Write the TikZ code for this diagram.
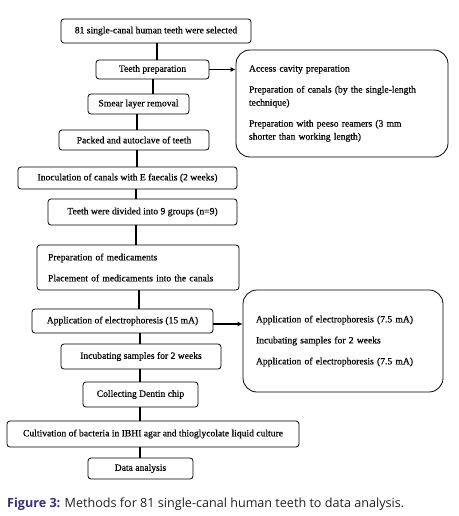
\documentclass[tikz,border=0pt]{standalone}
\usepackage{fontspec}
\setmainfont{Liberation Serif}
\newfontfamily\boxfont{Liberation Serif}[FakeBold=0.4]
\newfontfamily\capfont{Open Sans}
\usepackage{tikz}
\usetikzlibrary{positioning, arrows.meta}

\definecolor{capblue}{RGB}{58,44,128}
\definecolor{capgray}{RGB}{35,31,32}

\begin{document}
\begin{tikzpicture}[x=1pt, y=-1pt,
	box/.style={draw, rounded corners=3pt, line width=0.8pt, inner sep=0pt, font=\boxfont\fontsize{9.6}{13}\selectfont},
	side/.style={draw, rounded corners=14pt, line width=0.8pt, inner xsep=13pt, inner ysep=0pt, align=left, font=\boxfont\fontsize{9.6}{13}\selectfont},
	link/.style={line width=1.4pt},
	arr/.style={line width=1.2pt, -{Latex[length=5pt, width=5pt]}},
	]
	\useasboundingbox (0,0) rectangle (458,516);
	
	% main column
	\node[box, minimum width=190pt, minimum height=24pt] (Sel) at (156,31) {81 single-canal human teeth were selected};
	\node[box, minimum width=113pt, minimum height=19pt] (Prep) at (152.5,69.5) {Teeth preparation};
	\node[box, minimum width=101pt, minimum height=20pt] (Smear) at (138.5,104) {Smear layer removal};
	\node[box, minimum width=150pt, minimum height=20pt] (Pack) at (134,140) {Packed and autoclave of teeth};
	\node[box, minimum width=219pt, minimum height=22pt] (Inoc) at (127.5,178) {Inoculation of canals with E faecalis (2 weeks)};
	\node[box, minimum width=189pt, minimum height=26pt] (Div) at (142.5,212) {Teeth were divided into 9 groups (n=9)};
	\node[box, minimum width=202pt, minimum height=45pt, inner xsep=11pt, text width=180pt, align=left] (Med) at (138,267.5) {Preparation of medicaments\\[8pt]Placement of medicaments into the canals};
	\node[box, minimum width=181pt, minimum height=24pt] (Elec) at (122.5,321) {Application of electrophoresis (15 mA)};
	\node[box, minimum width=160pt, minimum height=25pt] (Inc) at (141,356.5) {Incubating samples for 2 weeks};
	\node[box, minimum width=115pt, minimum height=25pt] (Chip) at (140.5,394.5) {Collecting Dentin chip};
	\node[box, minimum width=292pt, minimum height=26pt] (Cult) at (153,434) {Cultivation of bacteria in IBHI agar and thioglycolate liquid culture};
	\node[box, minimum width=105pt, minimum height=21pt] (Data) at (140.5,468.5) {Data analysis};
	
	% side boxes
	\node[side, minimum height=107pt, text width=186pt] (Acc) at (342,103.5) {Access cavity preparation\\[8pt]Preparation of canals (by the single-length\\technique)\\[8pt]Preparation with peeso reamers (3 mm\\shorter than working length)};
	\node[side, minimum height=102pt, text width=174pt] (Rep) at (343,341) {Application of electrophoresis (7.5 mA)\\[8pt]Incubating samples for 2 weeks\\[8pt]Application of electrophoresis (7.5 mA)\\[14pt]};
	
	% connectors
	\draw[link] (Sel.south -| 157,0) -- (Prep.north -| 157,0);
	\draw[link] (Prep.south -| 153,0) -- (Smear.north -| 153,0);
	\draw[link] (Smear.south -| 137,0) -- (Pack.north -| 137,0);
	\draw[link] (Pack.south -| 137,0) -- (Inoc.north -| 137,0);
	\draw[link] (Inoc.south -| 136,0) -- (Div.north -| 136,0);
	\draw[link] (Div.south -| 136,0) -- (Med.north -| 136,0);
	\draw[link] (Med.south -| 139,0) -- (Elec.north -| 139,0);
	\draw[link] (Elec.south -| 140,0) -- (Inc.north -| 140,0);
	\draw[link] (Inc.south -| 140,0) -- (Chip.north -| 140,0);
	\draw[link] (Chip.south -| 140,0) -- (Cult.north -| 140,0);
	\draw[link] (Cult.south -| 140,0) -- (Data.north -| 140,0);
	\draw[arr] (Prep.east) -- (Prep.east -| Acc.west);
	\draw[arr] ([yshift=-3pt]Elec.east) -- ([yshift=-3pt]Elec.east -| Rep.west);
	
	% caption
	\node[anchor=base west, inner sep=0pt, font=\capfont\fontsize{12.6}{14}\selectfont, text=capgray] (Cap) at (7,507) {\textcolor{capblue}{\textbf{Figure 3:}} Methods for 81 single-canal human teeth to data analysis.};
\end{tikzpicture}
\end{document}
